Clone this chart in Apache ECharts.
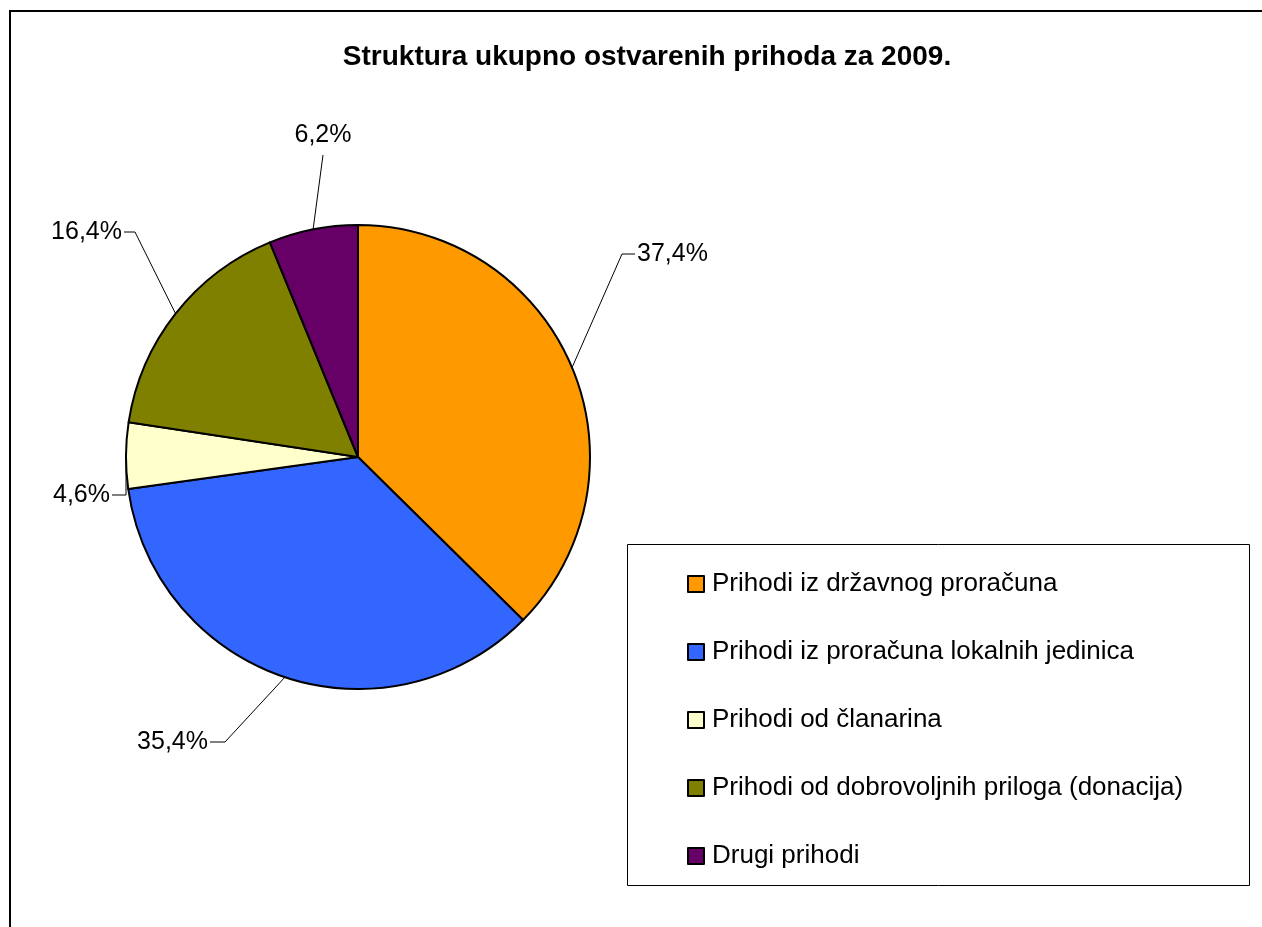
<!DOCTYPE html>
<html>
<head>
<meta charset="utf-8">
<script src="https://cdn.jsdelivr.net/npm/echarts@6/dist/echarts.min.js"></script>
<style>
html, body { margin: 0; padding: 0; background: #fff; }
#main { width: 1262px; height: 927px; }
</style>
</head>
<body>
<div id="main"></div>
<script>
// podaci
var naslov = 'Struktura ukupno ostvarenih prihoda za 2009.';
var kategorije = [
    'Prihodi iz državnog proračuna',
    'Prihodi iz proračuna lokalnih jedinica',
    'Prihodi od članarina',
    'Prihodi od dobrovoljnih priloga (donacija)',
    'Drugi prihodi'
];
var udjeli = [37.4, 35.4, 4.6, 16.4, 6.2];
var boje = ['#FF9900', '#3366FF', '#FFFFCC', '#808000', '#660066'];

var myChart = echarts.init(document.getElementById('main'));

var podaci = [];
for (var i = 0; i < kategorije.length; i++) {
    podaci.push({ name: kategorije[i], value: udjeli[i] });
}

// gdje stoje natpisi (kao u excelu)
var natpisi = [
    { x: 637, y: 254, align: 'left',   vAlign: 'middle', bend: [622, 254] },
    { x: 208, y: 742, align: 'right',  vAlign: 'middle', bend: [225, 742] },
    { x: 110, y: 495, align: 'right',  vAlign: 'middle', bend: [126, 495] },
    { x: 122, y: 232, align: 'right',  vAlign: 'middle', bend: [135, 232] },
    { x: 323, y: 148, align: 'center', vAlign: 'bottom', bend: [323, 155] }
];

var option = {
    animation: false,
    color: boje,
    textStyle: { fontFamily: '"Liberation Sans", Arial, sans-serif', color: '#000' },
    title: {
        text: naslov,
        left: 642,
        top: 38,
        textAlign: 'center',
        textStyle: { fontSize: 28, fontWeight: 'bold', color: '#000', fontFamily: '"Liberation Sans", Arial, sans-serif' }
    },
    graphic: [
        { type: 'rect', shape: { x: 10, y: 11, width: 1400, height: 1000 },
          style: { fill: null, stroke: '#000', lineWidth: 2 }, silent: true },
        { type: 'rect', shape: { x: 627.5, y: 544.5, width: 622, height: 341 },
          style: { fill: '#fff', stroke: '#000', lineWidth: 1 }, silent: true, z: 1 }
    ],
    legend: {
        orient: 'vertical',
        left: 682,
        top: 566,
        itemWidth: 16,
        itemHeight: 16,
        itemGap: 42,
        icon: 'rect',
        z: 5,
        itemStyle: { borderColor: '#000', borderWidth: 2 },
        textStyle: { fontSize: 26, lineHeight: 26, color: '#000', padding: [0, 0, 0, 3] },
        data: kategorije
    },
    series: [{
        type: 'pie',
        center: [358, 457],
        radius: 232,
        startAngle: 90,
        clockwise: true,
        avoidLabelOverlap: false,
        itemStyle: { borderColor: '#000', borderWidth: 2 },
        emphasis: { disabled: true },
        label: {
            show: true,
            fontSize: 25,
            color: '#000',
            formatter: function (p) {
                return p.value.toFixed(1).replace('.', ',') + '%';
            }
        },
        labelLine: {
            show: true,
            length: 20,
            length2: 10,
            lineStyle: { color: '#000', width: 1 }
        },
        labelLayout: function (p) {
            var n = natpisi[p.dataIndex];
            var start = p.labelLinePoints ? p.labelLinePoints[0] : n.bend;
            var end = n.align === 'left' ? [n.x - 2, n.y] :
                      n.align === 'right' ? [n.x + 2, n.y] : [n.x, n.y + 7];
            return {
                x: n.x,
                y: n.y,
                align: n.align,
                verticalAlign: n.vAlign,
                labelLinePoints: [start, n.bend, end]
            };
        },
        data: podaci
    }]
};

if (option && typeof option === "object") {
    myChart.setOption(option, true);
}
</script>
</body>
</html>
